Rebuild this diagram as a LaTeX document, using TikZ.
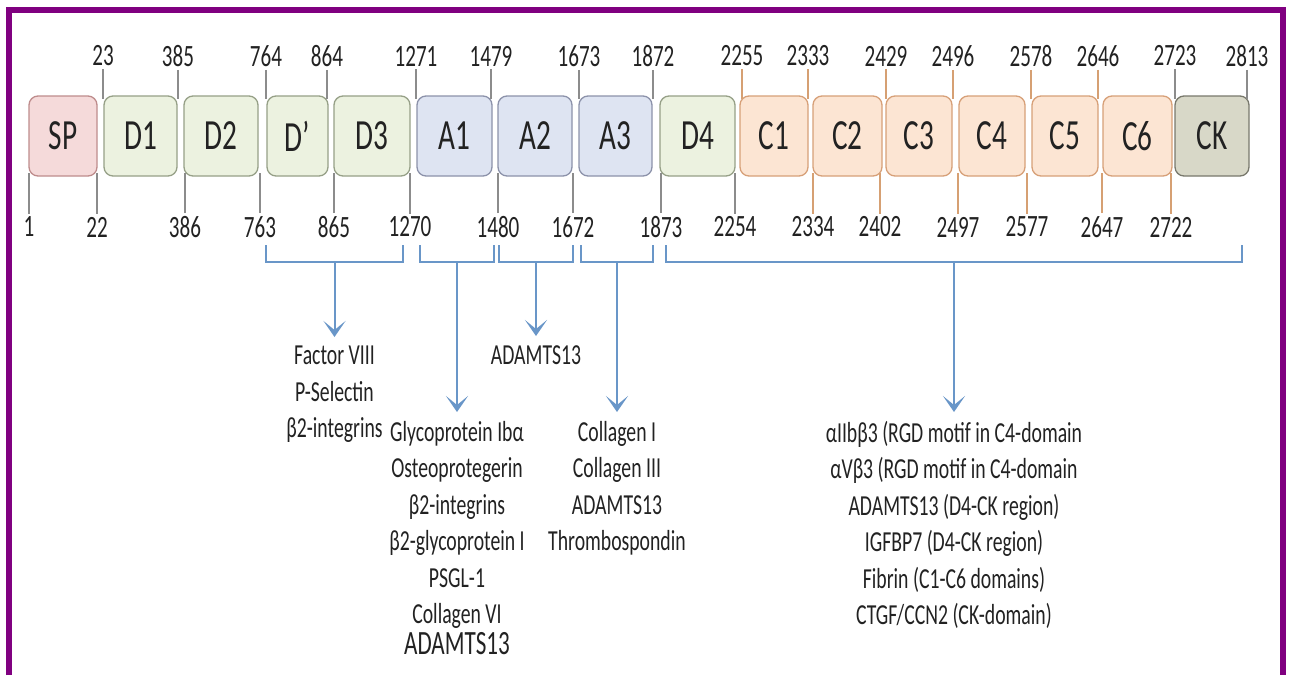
\documentclass[tikz,border=0pt]{standalone}
\usepackage{fontspec}
\setmainfont{Carlito}[FakeStretch=0.68]
\usetikzlibrary{arrows.meta}
\definecolor{framecol}{RGB}{128,0,128}
\definecolor{textcol}{RGB}{34,34,34}
\definecolor{tickgrey}{RGB}{140,140,140}
\definecolor{tickorange}{RGB}{214,160,115}
\definecolor{bracecol}{RGB}{105,150,200}
\definecolor{spfill}{RGB}{245,218,218}
\definecolor{spline}{RGB}{190,140,140}
\definecolor{dfill}{RGB}{236,242,224}
\definecolor{dline}{RGB}{150,160,135}
\definecolor{afill}{RGB}{222,228,242}
\definecolor{aline}{RGB}{140,146,170}
\definecolor{cfill}{RGB}{252,229,211}
\definecolor{cline}{RGB}{215,160,120}
\definecolor{ckfill}{RGB}{216,216,200}
\definecolor{ckline}{RGB}{120,120,108}

\begin{document}
\begin{tikzpicture}[x=1pt,y=-1pt,
  dom/.style={draw, rounded corners=9pt, minimum height=80pt, inner sep=0pt, line width=1.3pt,
    text=textcol, font=\fontsize{43}{48}\selectfont},
  spdom/.style={dom, draw=spline, fill=spfill},
  ddom/.style={dom, draw=dline, fill=dfill},
  adom/.style={dom, draw=aline, fill=afill},
  cdom/.style={dom, draw=cline, fill=cfill},
  ckdom/.style={dom, draw=ckline, fill=ckfill},
  num/.style={text=textcol, inner sep=3pt, font=\fontsize{31}{34}\selectfont},
  tick/.style={draw=tickgrey, line width=1.2pt},
  otick/.style={draw=tickorange, line width=1.2pt},
  brace/.style={draw=bracecol, line width=1.5pt},
  arr/.style={draw=bracecol, line width=2pt, -{Stealth[length=16pt,width=22pt,inset=9pt]}},
  lst/.style={anchor=north, align=center, inner xsep=0pt, inner ysep=9pt, text=textcol,
    font=\fontsize{29}{36.5}\selectfont}]
  \useasboundingbox (0,0) rectangle (1291,675);
  \fill[white] (0,0) rectangle (1291,675);
  \draw[framecol, line width=6pt] (9,675) -- (9,10) -- (1283,10) -- (1283,675);

  \node[spdom, minimum width=68pt] (SP) at (63,136) {SP};
  \node[ddom, minimum width=73pt] (D1) at (140.5,136) {D1};
  \node[ddom, minimum width=74pt] (D2) at (221,136) {D2};
  \node[ddom, minimum width=61pt] (Dp) at (297.5,136) {D’};
  \node[ddom, minimum width=76pt] (D3) at (372,136) {D3};
  \node[adom, minimum width=75pt] (A1) at (454.5,136) {A1};
  \node[adom, minimum width=74pt] (A2) at (535,136) {A2};
  \node[adom, minimum width=73pt] (A3) at (615.5,136) {A3};
  \node[ddom, minimum width=75pt] (D4) at (697.5,136) {D4};
  \node[cdom, minimum width=68pt] (C1) at (774,136) {C1};
  \node[cdom, minimum width=69pt] (C2) at (847.5,136) {C2};
  \node[cdom, minimum width=66pt] (C3) at (919,136) {C3};
  \node[cdom, minimum width=66pt] (C4) at (992,136) {C4};
  \node[cdom, minimum width=66pt] (C5) at (1065,136) {C5};
  \node[cdom, minimum width=69pt] (C6) at (1137.5,136) {C6};
  \node[ckdom, minimum width=74pt] (CK) at (1212,136) {CK};

  \node[num] (t23) at (103,56) {23};
  \node[num] (t385) at (178,56) {385};
  \node[num] (t764) at (266,56) {764};
  \node[num] (t864) at (327,56) {864};
  \node[num] (t1271) at (416,56) {1271};
  \node[num] (t1479) at (491,56) {1479};
  \node[num] (t1673) at (579,56) {1673};
  \node[num] (t1872) at (653,56) {1872};
  \node[num] (t2255) at (742,56) {2255};
  \node[num] (t2333) at (808,56) {2333};
  \node[num] (t2429) at (886,56) {2429};
  \node[num] (t2496) at (953,56) {2496};
  \node[num] (t2578) at (1031,56) {2578};
  \node[num] (t2646) at (1098,56) {2646};
  \node[num] (t2723) at (1175,56) {2723};
  \node[num] (t2813) at (1247,56) {2813};
  \draw[tick] (t23) -- ([yshift=-4pt]t23 |- D1.north);
  \draw[tick] (t385) -- ([yshift=-4pt]t385 |- D1.north);
  \draw[tick] (t764) -- ([yshift=-4pt]t764 |- Dp.north);
  \draw[tick] (t864) -- ([yshift=-4pt]t864 |- Dp.north);
  \draw[tick] (t1271) -- ([yshift=-4pt]t1271 |- A1.north);
  \draw[tick] (t1479) -- ([yshift=-4pt]t1479 |- A1.north);
  \draw[tick] (t1673) -- ([yshift=-4pt]t1673 |- A3.north);
  \draw[tick] (t1872) -- ([yshift=-4pt]t1872 |- A3.north);
  \draw[otick] (t2255) -- ([yshift=-4pt]t2255 |- C1.north);
  \draw[otick] (t2333) -- ([yshift=-4pt]t2333 |- C1.north);
  \draw[otick] (t2429) -- ([yshift=-4pt]t2429 |- C3.north);
  \draw[otick] (t2496) -- ([yshift=-4pt]t2496 |- C3.north);
  \draw[otick] (t2578) -- ([yshift=-4pt]t2578 |- C5.north);
  \draw[otick] (t2646) -- ([yshift=-4pt]t2646 |- C5.north);
  \draw[tick] (t2723) -- ([yshift=-4pt]t2723 |- CK.north);
  \draw[tick] (t2813) -- ([yshift=-4pt]t2813 |- CK.north);

  \node[num] (b1) at (29,227) {1};
  \node[num] (b22) at (97,227) {22};
  \node[num] (b386) at (185,227) {386};
  \node[num] (b763) at (260,227) {763};
  \node[num] (b865) at (334,227) {865};
  \node[num] (b1270) at (410,227) {1270};
  \node[num] (b1480) at (498,227) {1480};
  \node[num] (b1672) at (573,227) {1672};
  \node[num] (b1873) at (661,227) {1873};
  \node[num] (b2254) at (735,227) {2254};
  \node[num] (b2334) at (813,227) {2334};
  \node[num] (b2402) at (880,227) {2402};
  \node[num] (b2497) at (958,227) {2497};
  \node[num] (b2577) at (1027,227) {2577};
  \node[num] (b2647) at (1102,227) {2647};
  \node[num] (b2722) at (1171,227) {2722};
  \draw[tick] (b1) -- ([yshift=4pt]b1 |- SP.south);
  \draw[tick] (b22) -- ([yshift=4pt]b22 |- SP.south);
  \draw[tick] (b386) -- ([yshift=4pt]b386 |- D2.south);
  \draw[tick] (b763) -- ([yshift=4pt]b763 |- D2.south);
  \draw[tick] (b865) -- ([yshift=4pt]b865 |- D3.south);
  \draw[tick] (b1270) -- ([yshift=4pt]b1270 |- D3.south);
  \draw[tick] (b1480) -- ([yshift=4pt]b1480 |- A2.south);
  \draw[tick] (b1672) -- ([yshift=4pt]b1672 |- A2.south);
  \draw[tick] (b1873) -- ([yshift=4pt]b1873 |- D4.south);
  \draw[tick] (b2254) -- ([yshift=4pt]b2254 |- D4.south);
  \draw[otick] (b2334) -- ([yshift=4pt]b2334 |- C2.south);
  \draw[otick] (b2402) -- ([yshift=4pt]b2402 |- C2.south);
  \draw[otick] (b2497) -- ([yshift=4pt]b2497 |- C4.south);
  \draw[otick] (b2577) -- ([yshift=4pt]b2577 |- C4.south);
  \draw[otick] (b2647) -- ([yshift=4pt]b2647 |- C6.south);
  \draw[otick] (b2722) -- ([yshift=4pt]b2722 |- C6.south);

  \node[lst] (lstdp) at (334.5,337) {Factor VIII\\P-Selectin\\β2-integrins};
  \node[lst] (lsta1) at (457,412) {Glycoprotein Ibα\\Osteoprotegerin\\β2-integrins\\β2-glycoprotein I\\PSGL-1\\Collagen VI\\[-6pt]{\fontsize{34}{36}\selectfont ADAMTS13}};
  \node[lst] (lsta2) at (536,336) {ADAMTS13};
  \node[lst] (lsta3) at (617,412) {Collagen I\\Collagen III\\ADAMTS13\\Thrombospondin};
  \node[lst] (lstck) at (954,412) {αIIbβ3 (RGD motif in C4-domain\\αVβ3 (RGD motif in C4-domain\\ADAMTS13 (D4-CK region)\\IGFBP7 (D4-CK region)\\Fibrin (C1-C6 domains)\\CTGF/CCN2 (CK-domain)};

  \coordinate (br1l) at (266,245);
  \coordinate (br1r) at (403,245);
  \coordinate (br1m) at (334.5,262);
  \coordinate (br2l) at (420,245);
  \coordinate (br2r) at (494,245);
  \coordinate (br2m) at (457,262);
  \coordinate (br3l) at (499,245);
  \coordinate (br3r) at (573,245);
  \coordinate (br3m) at (536,262);
  \coordinate (br4l) at (581,245);
  \coordinate (br4r) at (653,245);
  \coordinate (br4m) at (617,262);
  \coordinate (br5l) at (666,245);
  \coordinate (br5r) at (1242,245);
  \coordinate (br5m) at (954,262);
  \draw[brace] (br1l) -- (br1l |- br1m) -- (br1r |- br1m) -- (br1r);
  \draw[brace] (br2l) -- (br2l |- br2m) -- (br2r |- br2m) -- (br2r);
  \draw[brace] (br3l) -- (br3l |- br3m) -- (br3r |- br3m) -- (br3r);
  \draw[brace] (br4l) -- (br4l |- br4m) -- (br4r |- br4m) -- (br4r);
  \draw[brace] (br5l) -- (br5l |- br5m) -- (br5r |- br5m) -- (br5r);
  \draw[arr] (br1m) -- (lstdp.north);
  \draw[arr] (br2m) -- (lsta1.north);
  \draw[arr] (br3m) -- (lsta2.north);
  \draw[arr] (br4m) -- (lsta3.north);
  \draw[arr] (br5m) -- (lstck.north);
\end{tikzpicture}
\end{document}
